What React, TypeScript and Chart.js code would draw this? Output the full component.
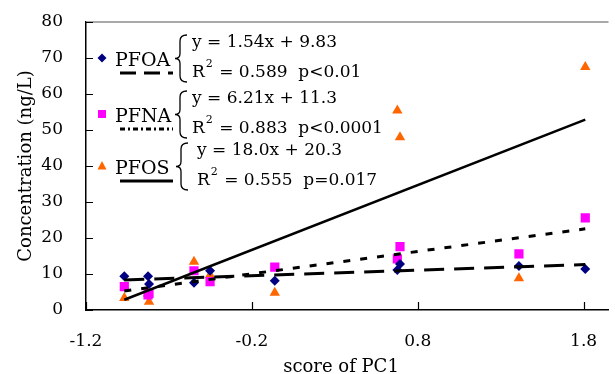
import React, { useEffect, useRef } from 'react';
import { Chart, registerables } from 'chart.js';

Chart.register(...registerables);

// ---- data ----
const pcScores = [-0.969, -0.826, -0.82, -0.549, -0.452, -0.062, 0.677, 0.693, 1.41, 1.81];
const pfoaValues = [9.4, 9.4, 7.2, 7.6, 10.9, 8.1, 11.1, 12.8, 12.2, 11.4];
const pfnaValues = [6.5, 4.2, 4.6, 10.9, 7.9, 11.9, 14.2, 17.6, 15.6, 25.6];
const pfosValues = [3.3, 4.6, 2.3, 13.4, 9.7, 4.8, 55.4, 48.0, 8.8, 67.5];
const seriesNames = ['PFOA', 'PFNA', 'PFOS'];
const slopes = [1.54, 6.21, 18.0];
const intercepts = [9.83, 11.3, 20.3];
const equationLabels = ['y = 1.54x + 9.83', 'y = 6.21x + 11.3', 'y = 18.0x + 20.3'];
const r2Labels = [' = 0.589  ', ' = 0.883  ', ' = 0.555  '];
const pLabels = ['p<0.01', 'p<0.0001', 'p=0.017'];
const xTickValues = [-1.2, -0.2, 0.8, 1.8];
const yTickValues = [0, 10, 20, 30, 40, 50, 60, 70, 80];
const xAxisTitle = 'score of PC1';
const yAxisTitle = 'Concentration (ng/L)';

const FONT = '"DejaVu Serif", serif';
const colors = ['#000080', '#FF00FF', '#FF6600'];
const markerStyles = ['rectRot', 'rect', 'triangle'];
const markerRadius = [5, 6.5, 6];
const lineDashes = [[20, 10], [7, 10], []];
const legendDashes = [[16, 8], [5, 3, 2, 3], []];
const lineWidths = [3, 3, 2.5];

function toPoints(values: number[]) {
  return values.map((v, i) => ({ x: pcScores[i], y: v }));
}

function trendPoints(k: number) {
  const xMin = Math.min(...pcScores);
  const xMax = Math.max(...pcScores);
  return [
    { x: xMin, y: slopes[k] * xMin + intercepts[k] },
    { x: xMax, y: slopes[k] * xMax + intercepts[k] },
  ];
}

function drawMarker(ctx: CanvasRenderingContext2D, k: number, x: number, y: number) {
  ctx.save();
  ctx.fillStyle = colors[k];
  ctx.beginPath();
  if (k === 0) {
    const r = 4.5;
    ctx.moveTo(x, y - r);
    ctx.lineTo(x + r, y);
    ctx.lineTo(x, y + r);
    ctx.lineTo(x - r, y);
  } else if (k === 1) {
    ctx.rect(x - 4, y - 4, 8, 8);
  } else {
    ctx.moveTo(x, y - 5);
    ctx.lineTo(x + 4.5, y + 3.5);
    ctx.lineTo(x - 4.5, y + 3.5);
  }
  ctx.closePath();
  ctx.fill();
  ctx.restore();
}

function drawBrace(ctx: CanvasRenderingContext2D, x: number, yTop: number, yBot: number) {
  const ym = (yTop + yBot) / 2;
  ctx.save();
  ctx.strokeStyle = '#000';
  ctx.lineWidth = 1.3;
  ctx.beginPath();
  ctx.moveTo(x + 12, yTop);
  ctx.quadraticCurveTo(x + 5, yTop, x + 5, yTop + 6);
  ctx.lineTo(x + 5, ym - 5);
  ctx.quadraticCurveTo(x + 5, ym, x, ym);
  ctx.quadraticCurveTo(x + 5, ym, x + 5, ym + 5);
  ctx.lineTo(x + 5, yBot - 6);
  ctx.quadraticCurveTo(x + 5, yBot, x + 12, yBot);
  ctx.stroke();
  ctx.restore();
}

const decorPlugin = {
  id: 'decor',
  beforeDatasetsDraw(chart: any) {
    const { ctx, chartArea, scales } = chart;
    const xs = scales.x;
    const ys = scales.y;
    ctx.save();
    // top border
    ctx.strokeStyle = '#8c8c8c';
    ctx.lineWidth = 1.5;
    ctx.beginPath();
    ctx.moveTo(chartArea.left, chartArea.top);
    ctx.lineTo(chartArea.right, chartArea.top);
    ctx.stroke();
    // inward ticks
    ctx.strokeStyle = '#000';
    ctx.lineWidth = 1.2;
    ctx.beginPath();
    xTickValues.forEach((v) => {
      const px = Math.round(xs.getPixelForValue(v)) + 0.5;
      ctx.moveTo(px, chartArea.bottom);
      ctx.lineTo(px, chartArea.bottom - 8);
    });
    yTickValues.forEach((v) => {
      const py = Math.round(ys.getPixelForValue(v)) + 0.5;
      ctx.moveTo(chartArea.left, py);
      ctx.lineTo(chartArea.left + 7, py);
    });
    ctx.stroke();
    ctx.restore();
  },
  afterDraw(chart: any) {
    const { ctx, chartArea } = chart;
    const L = chartArea.left;
    const T = chartArea.top;
    ctx.save();
    ctx.fillStyle = '#000';
    // axis titles
    ctx.font = `18px ${FONT}`;
    ctx.textAlign = 'center';
    ctx.textBaseline = 'middle';
    ctx.fillText(xAxisTitle, 341, 367);
    ctx.save();
    ctx.translate(26, (chartArea.top + chartArea.bottom) / 2);
    ctx.rotate(-Math.PI / 2);
    ctx.fillText(yAxisTitle, 0, 0);
    ctx.restore();

    // legend blocks
    const blockTops = [0, 56, 108];
    blockTops.forEach((off, k) => {
      const oy = T + off;
      drawMarker(ctx, k, L + 16, oy + 36);
      ctx.font = `19px ${FONT}`;
      ctx.textAlign = 'left';
      ctx.textBaseline = 'alphabetic';
      ctx.fillText(seriesNames[k], L + 29, oy + 44);
      ctx.save();
      ctx.strokeStyle = '#000';
      ctx.lineWidth = 3;
      ctx.setLineDash(legendDashes[k]);
      ctx.beginPath();
      ctx.moveTo(L + 34, oy + 51);
      ctx.lineTo(L + 87, oy + 51);
      ctx.stroke();
      ctx.restore();
      const bx = k === 2 ? L + 90 : L + 89;
      drawBrace(ctx, bx, oy + 13, oy + 60);
      const tx = k === 2 ? L + 111 : L + 106;
      ctx.font = `17px ${FONT}`;
      ctx.fillText(equationLabels[k], tx, oy + 25);
      ctx.fillText('R', tx, oy + 55);
      const rw = ctx.measureText('R').width;
      ctx.font = `11px ${FONT}`;
      ctx.fillText('2', tx + rw + 1, oy + 45);
      const sw = ctx.measureText('2').width;
      ctx.font = `17px ${FONT}`;
      const rest = r2Labels[k] + pLabels[k];
      ctx.fillText(rest, tx + rw + sw + 2, oy + 55);
    });
    ctx.restore();
  },
};

export default function App() {
  const canvasRef = useRef<HTMLCanvasElement | null>(null);

  useEffect(() => {
    const canvas = canvasRef.current;
    if (!canvas) return;
    const datasets: any[] = [];
    [0, 1, 2].forEach((k) => {
      datasets.push({
        type: 'line',
        label: seriesNames[k] + ' fit',
        data: trendPoints(k),
        borderColor: '#000',
        borderWidth: lineWidths[k],
        borderDash: lineDashes[k],
        pointRadius: 0,
        fill: false,
        order: 0,
      });
    });
    const valueSets = [pfoaValues, pfnaValues, pfosValues];
    [0, 1, 2].forEach((k) => {
      datasets.push({
        type: 'scatter',
        label: seriesNames[k],
        data: toPoints(valueSets[k]),
        backgroundColor: colors[k],
        borderColor: colors[k],
        borderWidth: 0,
        pointStyle: markerStyles[k],
        pointRadius: markerRadius[k],
        order: 1 + k,
      });
    });

    const chart = new Chart(canvas, {
      type: 'scatter',
      data: { datasets },
      options: {
        responsive: false,
        animation: false,
        layout: { padding: { top: 22, right: 0, left: 0, bottom: 0 } },
        plugins: {
          legend: { display: false },
          tooltip: { enabled: false },
          title: { display: false },
        },
        scales: {
          x: {
            type: 'linear',
            min: -1.2,
            max: 1.95,
            afterBuildTicks: (scale: any) => {
              scale.ticks = xTickValues.map((v) => ({ value: v }));
            },
            afterFit: (scale: any) => {
              scale.height = 64;
              scale.paddingLeft = 0;
              scale.paddingRight = 0;
            },
            grid: { display: false, drawTicks: false },
            border: { display: true, color: '#000', width: 1.5 },
            ticks: {
              padding: 21,
              color: '#000',
              font: { family: FONT, size: 17 },
              callback: (v: any) => Number(v).toFixed(1),
              maxRotation: 0,
            },
          },
          y: {
            type: 'linear',
            min: 0,
            max: 80,
            afterBuildTicks: (scale: any) => {
              scale.ticks = yTickValues.map((v) => ({ value: v }));
            },
            afterFit: (scale: any) => {
              scale.width = 86;
              scale.paddingTop = 0;
              scale.paddingBottom = 0;
            },
            grid: { display: false, drawTicks: false },
            border: { display: true, color: '#000', width: 1.5 },
            ticks: {
              padding: 23,
              color: '#000',
              font: { family: FONT, size: 17 },
            },
          },
        },
      },
      plugins: [decorPlugin],
    });
    return () => chart.destroy();
  }, []);

  return (
    <div style={{ position: 'fixed', left: 0, top: 0, width: 615, height: 374, background: '#fff' }}>
      <canvas ref={canvasRef} width={615} height={374} style={{ display: 'block' }} />
    </div>
  );
}
